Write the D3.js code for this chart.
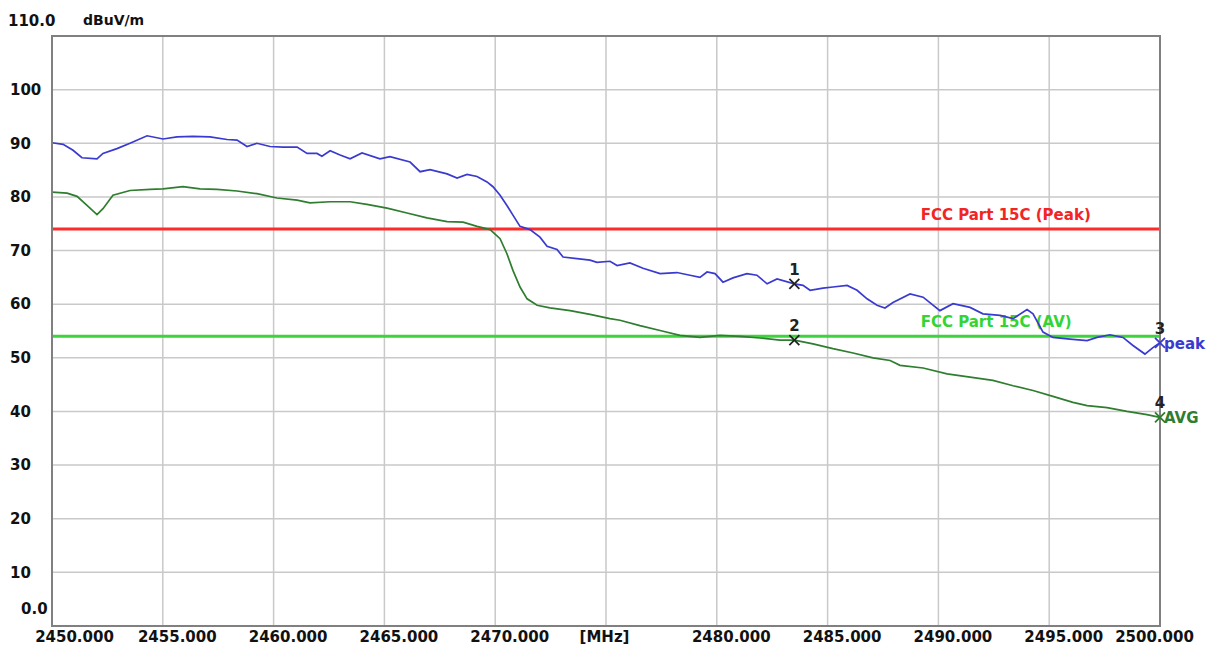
<!DOCTYPE html>
<html>
<head>
<meta charset="utf-8">
<script src="https://cdn.jsdelivr.net/npm/d3@7"></script>
<style>
  html, body { margin: 0; padding: 0; background: #fff; }
  svg { display: block; }
  text { font-family: "DejaVu Sans", sans-serif; font-weight: bold; }
</style>
</head>
<body>
<div id="chart"></div>
<script>
// frequency axis (MHz)
const xTicks = [2450, 2455, 2460, 2465, 2470, 2475, 2480, 2485, 2490, 2495, 2500];
const yTicks = [0, 10, 20, 30, 40, 50, 60, 70, 80, 90, 100, 110];

// peak trace
const peakFreq = [
  2450.0, 2450.5, 2450.95, 2451.35, 2452.03, 2452.3, 2452.93, 2453.52, 2454.29, 2455.01,
  2455.64, 2456.36, 2457.13, 2457.9, 2458.35, 2458.8, 2459.25, 2459.84, 2460.42, 2461.06,
  2461.51, 2461.96, 2462.18, 2462.55, 2463.0, 2463.45, 2463.99, 2464.8, 2465.25, 2466.16,
  2466.61, 2467.06, 2467.83, 2468.28, 2468.73, 2469.18, 2469.63, 2469.9, 2470.22, 2470.53,
  2470.8, 2471.12, 2471.57, 2472.02, 2472.34, 2472.79, 2473.06, 2473.69, 2474.28, 2474.59,
  2475.18, 2475.5, 2476.08, 2476.67, 2477.44, 2478.2, 2478.79, 2479.24, 2479.56, 2479.92,
  2480.28, 2480.73, 2481.36, 2481.81, 2482.27, 2482.72, 2483.5, 2483.89, 2484.21, 2484.79,
  2485.24, 2485.88, 2486.33, 2486.78, 2487.23, 2487.59, 2487.95, 2488.72, 2489.31, 2490.07,
  2490.66, 2491.43, 2492.01, 2492.78, 2493.37, 2494.0, 2494.27, 2494.72, 2495.17, 2495.94,
  2496.71, 2497.16, 2497.74, 2498.33, 2498.78, 2499.32, 2499.68, 2500.0
];
const peakVal = [
  90.1, 89.8, 88.7, 87.3, 87.1, 88.1, 89.0, 90.0, 91.4, 90.8,
  91.2, 91.3, 91.2, 90.7, 90.6, 89.4, 90.0, 89.4, 89.3, 89.3,
  88.1, 88.1, 87.6, 88.6, 87.8, 87.1, 88.2, 87.1, 87.5, 86.5,
  84.7, 85.1, 84.3, 83.5, 84.2, 83.8, 82.8, 81.9, 80.3, 78.4,
  76.6, 74.5, 73.9, 72.5, 70.8, 70.2, 68.8, 68.5, 68.2, 67.8,
  68.0, 67.2, 67.7, 66.7, 65.7, 65.9, 65.4, 65.0, 66.0, 65.7,
  64.1, 64.9, 65.7, 65.4, 63.8, 64.7, 63.8, 63.5, 62.6, 63.0,
  63.2, 63.5, 62.6, 61.0, 59.8, 59.3, 60.3, 61.9, 61.3, 58.8,
  60.1, 59.4, 58.2, 57.9, 57.3, 59.0, 58.2, 54.8, 53.8, 53.5,
  53.2, 53.8, 54.3, 53.8, 52.3, 50.7, 51.9, 52.8
];

// average trace
const avgFreq = [
  2450.0, 2450.68, 2451.13, 2451.58, 2452.03, 2452.3, 2452.75, 2453.52, 2454.42, 2455.01,
  2455.91, 2456.68, 2457.45, 2458.35, 2459.25, 2460.15, 2461.06, 2461.64, 2462.55, 2463.45,
  2464.21, 2465.12, 2466.02, 2466.92, 2467.83, 2468.55, 2469.18, 2469.77, 2470.22, 2470.53,
  2470.8, 2471.12, 2471.44, 2471.89, 2472.47, 2473.38, 2474.28, 2475.18, 2475.63, 2476.53,
  2477.44, 2478.34, 2479.24, 2480.14, 2481.05, 2481.95, 2482.85, 2483.5, 2484.34, 2485.24,
  2486.15, 2487.05, 2487.82, 2488.27, 2489.31, 2490.39, 2491.43, 2492.46, 2493.37, 2494.27,
  2495.17, 2496.07, 2496.71, 2497.61, 2498.51, 2499.41, 2500.0
];
const avgVal = [
  80.9, 80.7, 80.1, 78.4, 76.7, 77.8, 80.3, 81.2, 81.4, 81.5,
  81.9, 81.5, 81.4, 81.1, 80.6, 79.8, 79.4, 78.9, 79.1, 79.1,
  78.6, 77.9, 77.0, 76.1, 75.4, 75.3, 74.5, 73.9, 72.2, 69.4,
  66.3, 63.2, 61.0, 59.8, 59.3, 58.8, 58.1, 57.3, 57.0, 56.0,
  55.1, 54.2, 53.8, 54.2, 54.0, 53.7, 53.3, 53.3, 52.6, 51.7,
  50.9, 50.0, 49.5, 48.6, 48.1, 47.0, 46.4, 45.8, 44.8, 43.9,
  42.8, 41.7, 41.1, 40.7, 40.0, 39.4, 38.9
];

// limit lines
const limitNames = ["FCC Part 15C (Peak)", "FCC Part 15C (AV)"];
const limitVals = [74, 54];
const limitColors = ["#f22424", "#33d433"];
const limitLineColors = ["#ff2a2a", "#3cd43c"];

// markers
const markerNums = ["1", "2", "3", "4"];
const markerFreq = [2483.5, 2483.5, 2500, 2500];
const markerVal = [63.8, 53.3, 52.8, 38.9];

const width = 1210, height = 649;
const marginLeft = 52, marginRight = 50, marginTop = 36, marginBottom = 23;

const x = d3.scaleLinear()
  .domain([2450, 2500])
  .range([marginLeft, width - marginRight]);

const y = d3.scaleLinear()
  .domain([0, 110])
  .range([height - marginBottom, marginTop]);

const svg = d3.select("#chart")
  .append("svg")
  .attr("width", width)
  .attr("height", height)
  .attr("viewBox", [0, 0, width, height]);

// grid
svg.append("g")
  .attr("stroke", "#c9c9c9")
  .attr("stroke-width", 1.5)
  .selectAll("line.v")
  .data(xTicks.slice(1, -1))
  .join("line")
  .attr("x1", d => x(d)).attr("x2", d => x(d))
  .attr("y1", y(110)).attr("y2", y(0));

svg.append("g")
  .attr("stroke", "#c9c9c9")
  .attr("stroke-width", 1.5)
  .selectAll("line.h")
  .data(yTicks.slice(1, -1))
  .join("line")
  .attr("x1", x(2450)).attr("x2", x(2500))
  .attr("y1", d => y(d)).attr("y2", d => y(d));

// limit lines
limitVals.forEach((v, i) => {
  svg.append("line")
    .attr("x1", x(2450)).attr("x2", x(2500))
    .attr("y1", y(v)).attr("y2", y(v))
    .attr("stroke", limitLineColors[i])
    .attr("stroke-width", 3);
  svg.append("text")
    .attr("x", x(2489.2))
    .attr("y", y(v) - 9)
    .attr("fill", limitColors[i])
    .attr("font-size", 15)
    .text(limitNames[i]);
});

// traces
const line = d3.line()
  .x(d => x(d[0]))
  .y(d => y(d[1]));

svg.append("path")
  .datum(d3.zip(avgFreq, avgVal))
  .attr("fill", "none")
  .attr("stroke", "#2f7d2f")
  .attr("stroke-width", 1.7)
  .attr("d", line);

svg.append("path")
  .datum(d3.zip(peakFreq, peakVal))
  .attr("fill", "none")
  .attr("stroke", "#3a3ad0")
  .attr("stroke-width", 1.7)
  .attr("d", line);

// frame
svg.append("rect")
  .attr("x", x(2450)).attr("y", y(110))
  .attr("width", x(2500) - x(2450))
  .attr("height", y(0) - y(110))
  .attr("fill", "none")
  .attr("stroke", "#808080")
  .attr("stroke-width", 2);

// axes
svg.append("g")
  .attr("transform", `translate(0,${y(0)})`)
  .call(d3.axisBottom(x).tickValues(xTicks).tickSize(0)
    .tickFormat(d => d === 2475 ? "[MHz]" : d.toFixed(3)))
  .call(g => g.select(".domain").remove())
  .call(g => g.selectAll(".tick text")
    .attr("y", 5)
    .attr("dx", d => d === 2450 ? 22 : d === 2500 ? -6 : d === 2475 ? -2 : 14)
    .attr("fill", "#111")
    .attr("font-size", 15)
    .attr("font-family", null));

svg.append("g")
  .attr("transform", `translate(${marginLeft},0)`)
  .call(d3.axisLeft(y).tickValues(yTicks).tickSize(0)
    .tickFormat(d => d === 0 || d === 110 ? d.toFixed(1) : d))
  .call(g => g.select(".domain").remove())
  .call(g => g.selectAll(".tick text")
    .attr("text-anchor", "start")
    .attr("x", d => d === 0 ? -31 : d === 110 ? -44 : -42)
    .attr("dy", d => d === 0 ? "-0.85em" : d === 110 ? "-0.73em" : "0.32em")
    .attr("fill", "#111")
    .attr("font-size", 15)
    .attr("font-family", null))
  .call(g => g.append("text")
    .attr("x", 31)
    .attr("y", marginTop - 11)
    .attr("fill", "#111")
    .attr("font-size", 14)
    .attr("text-anchor", "start")
    .text("dBuV/m"));

// markers
const mk = svg.append("g");
markerNums.forEach((n, i) => {
  const cx = x(markerFreq[i]), cy = y(markerVal[i]);
  mk.append("path")
    .attr("d", `M${cx - 5},${cy - 5}L${cx + 5},${cy + 5}M${cx - 5},${cy + 5}L${cx + 5},${cy - 5}`)
    .attr("stroke", i >= 2 ? (i === 2 ? "#3a3ad0" : "#2f7d2f") : "#222")
    .attr("stroke-width", 1.8);
  mk.append("text")
    .attr("x", cx)
    .attr("y", cy - 9)
    .attr("text-anchor", "middle")
    .attr("fill", "#222")
    .attr("font-size", 15)
    .text(n);
});

svg.append("text")
  .attr("x", x(2500) + 4)
  .attr("y", y(markerVal[2]) + 6)
  .attr("fill", "#3a3ad0")
  .attr("font-size", 15)
  .text("peak");

svg.append("text")
  .attr("x", x(2500) + 4)
  .attr("y", y(markerVal[3]) + 6)
  .attr("fill", "#2f7d2f")
  .attr("font-size", 15)
  .text("AVG");
</script>
</body>
</html>
